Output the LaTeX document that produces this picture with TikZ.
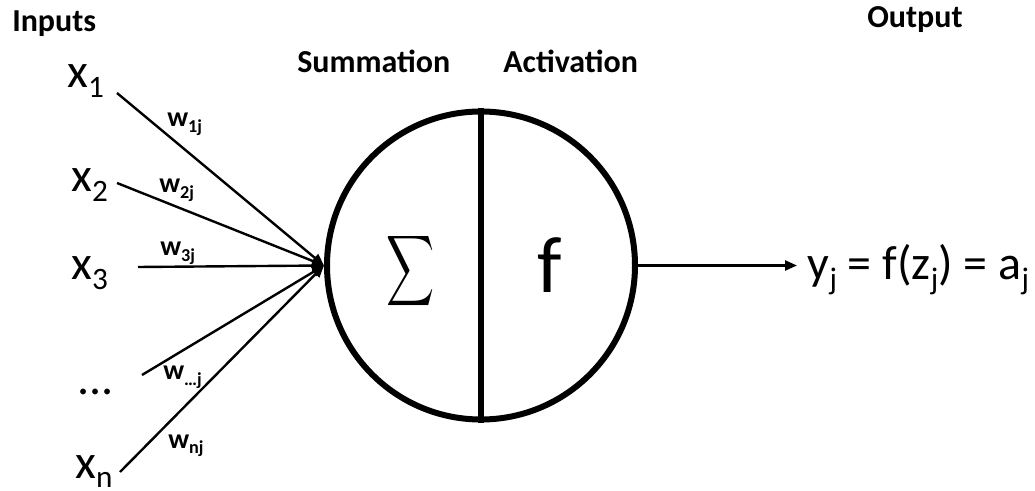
\documentclass[tikz,border=0pt]{standalone}
\usepackage{fontspec}
\setmainfont{Carlito}
\usepackage{graphicx}
\usetikzlibrary{arrows.meta}
\newcommand{\sbs}[1]{\raisebox{-0.19em}{\scalebox{0.65}{#1}}}

\begin{document}
\begin{tikzpicture}[x=0.75pt,y=-0.75pt,>={Triangle[length=9pt,width=7.5pt]},
  big/.style={inner sep=0pt,anchor=base west,font=\fontsize{36}{40}\selectfont},
  hdr/.style={inner sep=0pt,anchor=base west,font=\fontsize{24}{28}\selectfont\bfseries},
  wgt/.style={inner sep=0pt,anchor=base west,font=\fontsize{21}{24}\selectfont\bfseries},
  conn/.style={->,line width=1.8pt}]
  \useasboundingbox (0,0) rectangle (1035,491);

  \node[hdr] (inputs) at (12,32) {Inputs};
  \node[hdr] (summation) at (297,73) {Summation};
  \node[hdr] (activation) at (503,73) {Activation};
  \node[hdr] (output) at (867,28) {Output};

  \node[circle,draw,line width=4.5pt,minimum size=231pt,inner sep=0pt] (neuron) at (481,265.5) {};
  \draw[line width=4.5pt] (neuron.north) -- (neuron.south);
  \node[xscale=2.5,yscale=3.7] (sum) at (411,271) {$\displaystyle\sum$};
  \node[inner sep=0pt,font=\fontsize{60}{64}\selectfont] (act) at (550,265) {f};

  \node[big] (x1) at (67,88) {x\sbs{1}};
  \node[big] (x2) at (71,192) {x\sbs{2}};
  \node[big] (x3) at (71,280) {x\sbs{3}};
  \node[big] (xd) at (77,395) {...};
  \node[big] (xn) at (75,478) {x\sbs{n}};

  \coordinate (s1) at (117,93);
  \coordinate (s2) at (117,183);
  \coordinate (s3) at (138,267);
  \coordinate (s4) at (142,375);
  \coordinate (s5) at (120,472);

  \draw[conn] (s1) -- (neuron.west);
  \draw[conn] (s2) -- (neuron.west);
  \draw[conn] (s3) -- (neuron.west);
  \draw[conn] (s4) -- (neuron.west);
  \draw[conn] (s5) -- (neuron.west);

  \node[wgt] (w1) at (167,127) {w\sbs{1j}};
  \node[wgt] (w2) at (159,193) {w\sbs{2j}};
  \node[wgt] (w3) at (160,256) {w\sbs{3j}};
  \node[wgt] (wd) at (163,380) {w\sbs{…j}};
  \node[wgt] (wn) at (168,448) {w\sbs{nj}};

  \node[big,inner xsep=8pt] (y) at (797,280) {y\sbs{j} = f(z\sbs{j}) = a\sbs{j}};
  \draw[conn] (neuron.east) -- (neuron.east -| y.west);
\end{tikzpicture}
\end{document}
